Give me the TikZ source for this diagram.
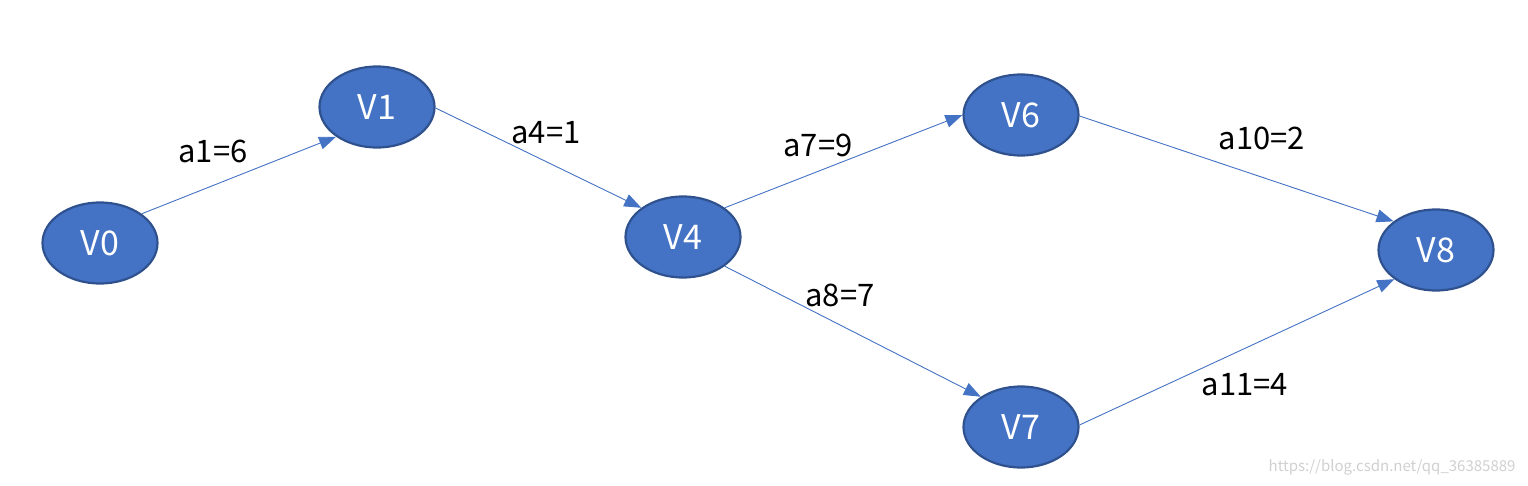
\documentclass[tikz,border=0pt]{standalone}
\usepackage{fontspec}
\setmainfont{Noto Sans CJK SC}
\usetikzlibrary{shapes.geometric,arrows.meta}
\definecolor{nodefill}{HTML}{4472C4}
\definecolor{nodeline}{HTML}{2F528F}
\definecolor{wm}{HTML}{D0D0D0}
\tikzset{
  vert/.style={ellipse, fill=nodefill, draw=nodeline, line width=2.2pt,
    minimum width=115pt, minimum height=81pt, inner sep=0pt,
    text=white, font=\fontsize{34}{35}\selectfont},
  edge/.style={draw=nodefill, line width=0.9pt,
    -{Triangle[length=17pt,width=13pt]}},
  lab/.style={font=\fontsize{31}{32}\selectfont, text=black}
}
\begin{document}
\begin{tikzpicture}[x=1pt,y=-1pt]
\useasboundingbox (0,0) rectangle (1528,486);
\node[vert] (V0) at (100,243) {V0};
\node[vert] (V1) at (377,107) {V1};
\node[vert] (V4) at (683,237) {V4};
\node[vert] (V6) at (1021,115) {V6};
\node[vert] (V7) at (1021,427) {V7};
\node[vert] (V8) at (1436,250) {V8};
\draw[edge] (V0.35) -- (V1.216);
\draw[edge] (V1.-1) -- (V4.145);
\draw[edge] (V4.35) -- (V6.180);
\draw[edge] (V4.-35) -- (V7.143);
\draw[edge] (V6.-1) -- (V8.146);
\draw[edge] (V7.2) -- (V8.215);
\node[lab] (l1) at (213,151) {a1=6};
\node[lab] (l4) at (546,133) {a4=1};
\node[lab] (l7) at (818,145) {a7=9};
\node[lab] (l8) at (840,295) {a8=7};
\node[lab] (l10) at (1262,138) {a10=2};
\node[lab] (l11) at (1245,385) {a11=4};
\node[text=wm, font=\fontsize{15}{16}\selectfont, anchor=east] (wmk) at (1519,467) {https://blog.csdn.net/qq\_36385889};
\end{tikzpicture}
\end{document}
